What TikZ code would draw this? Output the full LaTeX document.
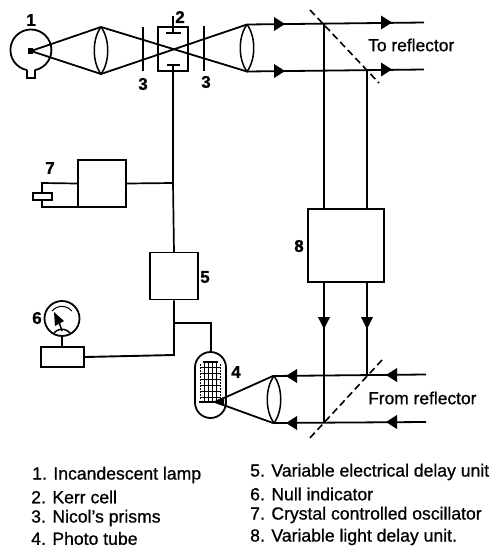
\documentclass[tikz,border=0pt]{standalone}
\usepackage{fontspec}
\setmainfont{Liberation Sans}[RawFeature={embolden=0.8}]
\usetikzlibrary{arrows.meta}
\tikzset{
 x=1pt,y=-1pt,
 line/.style={draw=black,line width=1.7pt},
 beam/.style={draw=black,line width=1.8pt},
 thick line/.style={draw=black,line width=2.8pt},
 boxn/.style={draw=black,line width=1.9pt,rectangle,inner sep=0},
 num/.style={font=\bfseries\fontsize{17}{19}\selectfont,inner sep=0},
 cap text/.style={font=\fontsize{17.6}{19}\selectfont,inner sep=0,anchor=west},
 mirror/.style={draw=black,line width=1.6pt,dash pattern=on 7pt off 4pt},
}
\newcommand{\rhead}[2]{\fill (#1-6,#2-7) -- (#1+5,#2) -- (#1-6,#2+7) -- cycle;}
\newcommand{\lhead}[2]{\fill (#1+6,#2-7) -- (#1-5,#2) -- (#1+6,#2+7) -- cycle;}
\newcommand{\dhead}[2]{\fill (#1-6,#2-6) -- (#1,#2+6) -- (#1+6,#2-6) -- cycle;}
\newcommand{\lens}[3]{\draw[line width=1.5pt] (#1,#2) .. controls (#1-9,#2+12) and (#1-9,#3-12) .. (#1,#3) .. controls (#1+9,#3-12) and (#1+9,#2+12) .. (#1,#2);}
\begin{document}
\begin{tikzpicture}
\useasboundingbox[fill=white] (0,0) rectangle (493,547);
% lamp
\draw[line width=1.8pt] (27,70.1) arc[start angle=101,end angle=439,radius=20.5];
\draw[line width=1.8pt] (27,70.1) -- (27,78) -- (35,78) -- (35,70.1);
\fill (28,48) rectangle (33,54);
% beams
\coordinate (fil) at (31,51);
\coordinate (l1t) at (101,27);
\coordinate (l1b) at (101,74);
\coordinate (l2t) at (247,24.5);
\coordinate (l2b) at (247,71.5);
\draw[beam] (l1t) -- (fil) -- (l1b);
\draw[beam] (l1t) -- (l2b);
\draw[beam] (l1b) -- (l2t);
\lens{101}{27}{74}
\lens{247}{24.5}{71.5}
% Nicol
\draw[thick line] (143,27) -- (143,71);
\draw[thick line] (204,26) -- (204,71);
% Kerr
\draw[line width=1.9pt] (158,27) rectangle (188,71);
\draw[line width=2.8pt] (166,33) -- (181,33);
\draw[line width=1.6pt] (173,16) -- (173,33);
\draw[line width=2.6pt] (167,65) -- (180,65);
% right beams
\draw[beam] (l2t) -- (424,22.5);
\draw[beam] (l2b) -- (424,69.5);
\rhead{280}{24}\rhead{387}{22.5}\rhead{280}{71}\rhead{387}{69.5}
\draw[mirror] (310,10) -- (379,83);
\node[cap text,font=\fontsize{17.4}{19}\selectfont] (toref) at (368,45) {To reflector};
% box 8
\node[boxn,minimum width=76pt,minimum height=73pt] (b8) at (346,245.5) {};
\draw[line] (324,23) -- (324,209);
\draw[line] (367,70) -- (367,209);
\draw[line] (324,282) -- (324,422);
\draw[line] (367,282) -- (367,375);
\dhead{324}{323}\dhead{367}{323}
\node[num] at (299,246) {8};
% bottom beams
\draw[beam] (273,376) -- (426,374.5);
\draw[beam] (273,423) -- (426,422);
\lhead{291}{376}\lhead{391}{375}\lhead{291}{423}\lhead{391}{422}
\draw[mirror] (382,360) -- (308,440);
\node[cap text,font=\fontsize{17.4}{19}\selectfont] (fromref) at (368,398) {From reflector};
\draw[beam] (273,376) -- (215,402) -- (273,423);
\lens{274}{376}{423}
% Signal wires
\node[boxn,minimum width=48pt,minimum height=47pt] (b7) at (102,183.5) {};
\node[boxn,minimum width=48pt,minimum height=47pt] (b5) at (174,276) {};
\draw[line] (173,65) -- (173,183) -- (174,252.5);
\draw[line] (b7.east) -- (173,183);
\draw[line] (b7.west) -- (42,183) -- (42,207) -- (78,207);
\draw[line width=1.7pt,fill=white] (33,193) rectangle (52,200);
\node[num] at (50,168) {7};
\node[num] at (205,277) {5};
% null indicator
\node[boxn,minimum width=43pt,minimum height=20pt] (b6) at (62.5,357) {};
\draw[line,line width=1.9pt] (b6.east) -- (174,355) -- (b5.south);
\draw[line] (174,323) -- (211,323) -- (211,352);
\draw[line width=1.7pt] (62,336) -- (62,347);
\draw[line width=1.8pt] (62,318.5) circle[radius=17.5];
\draw[line width=1pt] (52,311) arc[start angle=220,end angle=320,radius=13];
\draw[line width=1.5pt] (54,333) arc[start angle=220,end angle=320,radius=10.5];
\fill (54,312) -- (64,321) -- (55,326) -- cycle;
\draw[line width=1.5pt] (62,331) -- (58,319);
\node[num] at (37,318) {6};
% tube
\foreach \x in {204,208,212,216} \draw[line width=.9pt] (\x,362) -- (\x,402);
\foreach \x in {200,220} \draw[line width=.9pt,dash pattern=on 1.5pt off 1.5pt] (\x,364) -- (\x,400);
\foreach \y in {367,373,379,385,391,397} \draw[line width=.9pt] (201,\y) -- (220,\y);
\draw[line width=1.8pt] (195,367.5) arc[start angle=180,end angle=360,radius=15.5] -- (226,402.5) arc[start angle=0,end angle=180,radius=15.5] -- cycle;
\draw[line width=2.8pt] (203,362) -- (218,362);
\draw[line width=2.8pt] (199,402) -- (218,402);
\fill (213,402) -- (224,397) -- (224,406) -- cycle;
\node[num] at (236,372) {4};
\node[num] at (31,20) {1};
\node[num] at (180,17) {2};
\node[num] at (143,84) {3};
\node[num] at (206,82) {3};
% legend
\node[cap text] (c1) at (32,475) {1. Incandescent lamp};
\node[cap text] (c2) at (31,497) {2. Kerr cell};
\node[cap text] (c3) at (31,518) {3. Nicol's prisms};
\node[cap text] (c4) at (31,538.5) {4. Photo tube};
\node[cap text] (c5) at (250,472) {5. Variable electrical delay unit};
\node[cap text] (c6) at (250,494) {6. Null indicator};
\node[cap text] (c7) at (250,515) {7. Crystal controlled oscillator};
\node[cap text] (c8) at (250,537) {8. Variable light delay unit.};
\end{tikzpicture}
\end{document}
